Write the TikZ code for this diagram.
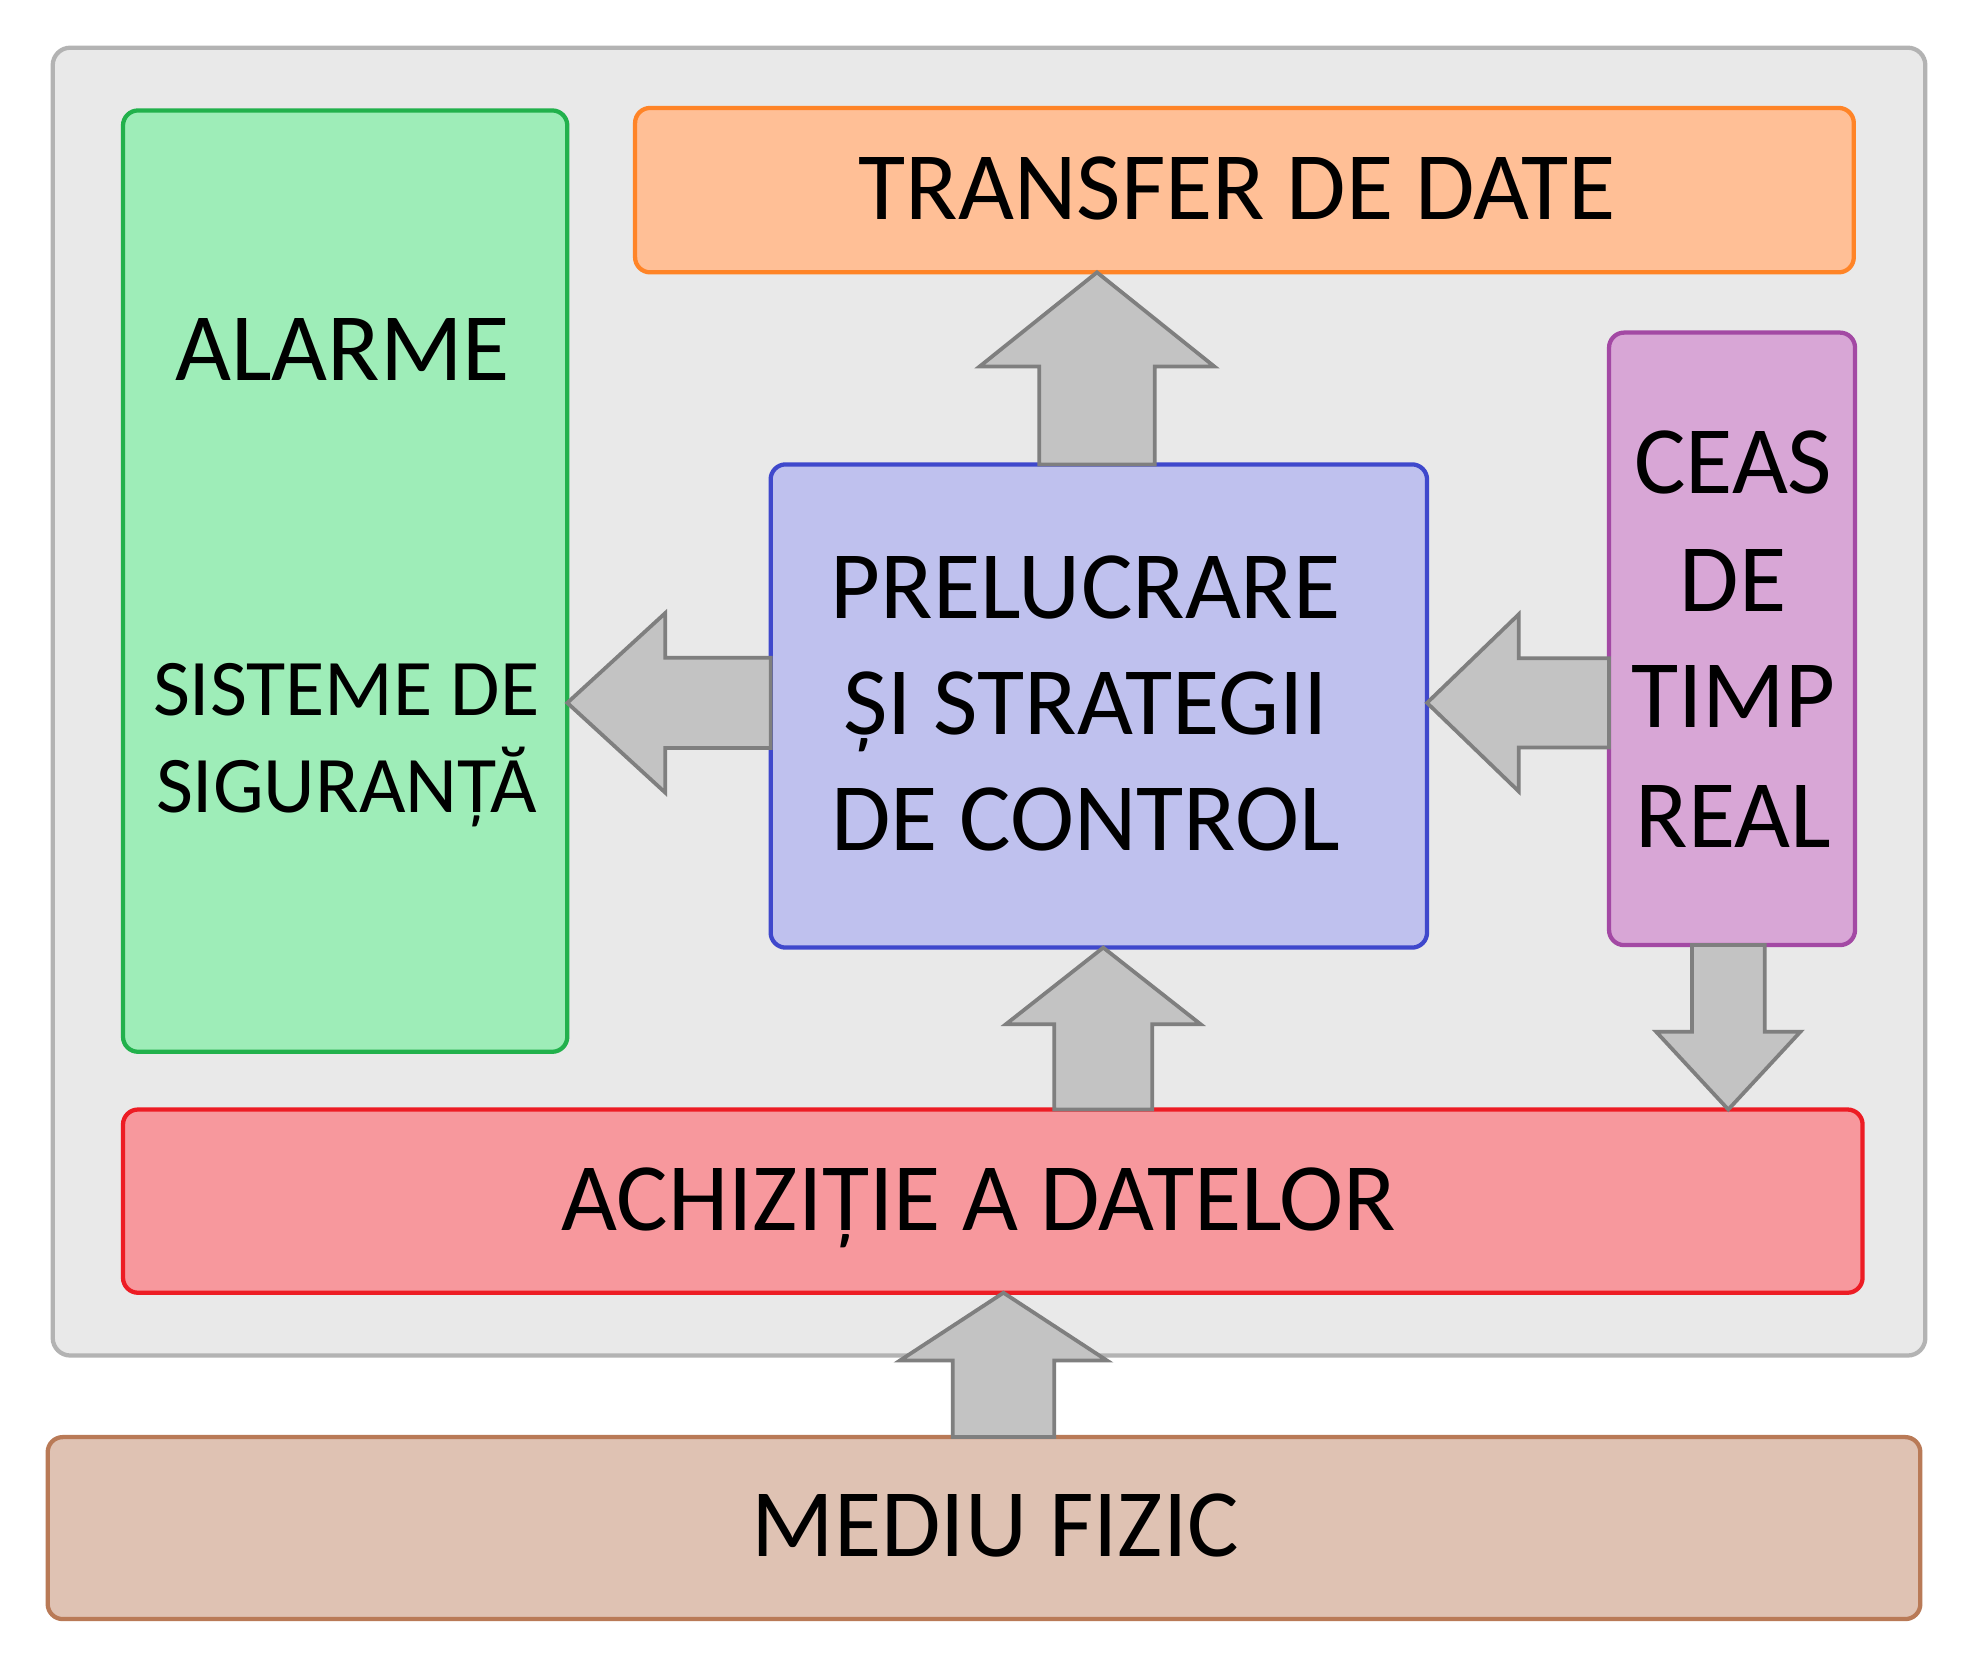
\documentclass[tikz,border=0pt]{standalone}
\usepackage{fontspec}
\setmainfont{Carlito}
\usetikzlibrary{calc}
\definecolor{bgfill}{HTML}{E9E9E9}
\definecolor{bgline}{HTML}{B3B3B3}
\definecolor{grfill}{HTML}{9EEDB8}
\definecolor{grline}{HTML}{22B14C}
\definecolor{orfill}{HTML}{FFBF96}
\definecolor{orline}{HTML}{FF8427}
\definecolor{blfill}{HTML}{BFC1EE}
\definecolor{blline}{HTML}{3F48CC}
\definecolor{pufill}{HTML}{D8A6D6}
\definecolor{puline}{HTML}{A349A4}
\definecolor{rdfill}{HTML}{F7989D}
\definecolor{rdline}{HTML}{ED1C24}
\definecolor{brfill}{HTML}{DFC2B3}
\definecolor{brline}{HTML}{B97A57}
\definecolor{arfill}{HTML}{C3C3C3}
\definecolor{arline}{HTML}{7F7F7F}
\tikzset{
  blockbox/.style={rectangle, rounded corners=12pt, line width=3.4pt, outer sep=0pt, inner sep=0pt},
  barrow/.style={draw=arline, fill=arfill, line width=3pt, line join=miter},
  lbl/.style={anchor=base, inner sep=0pt, font=\fontsize{77}{77}\selectfont},
  lblsmall/.style={anchor=base, inner sep=0pt, font=\fontsize{64}{64}\selectfont},
}
% vertical block arrow: start, tip, shaft half, head half, head length (signed, +: points up)
\newcommand\vbarrow[5]{\draw[barrow] ($(#1)+(-#3,0)$) -- ($(#2)+(-#3,#5)$) -- ($(#2)+(-#4,#5)$) -- (#2) -- ($(#2)+(#4,#5)$) -- ($(#2)+(#3,#5)$) -- ($(#1)+(#3,0)$) -- cycle;}
% horizontal block arrow pointing left: start, tip, shaft half, head half, head length
\newcommand\hbarrow[5]{\draw[barrow] ($(#1)+(0,-#3)$) -- ($(#2)+(#5,-#3)$) -- ($(#2)+(#5,-#4)$) -- (#2) -- ($(#2)+(#5,#4)$) -- ($(#2)+(#5,#3)$) -- ($(#1)+(0,#3)$) -- cycle;}
\begin{document}
\begin{tikzpicture}[x=1pt,y=-1pt]
\useasboundingbox[fill=white] (0,0) rectangle (1568,1332);
% boxes
\node[blockbox, rounded corners=14pt, draw=bgline, fill=bgfill, minimum width=1492pt, minimum height=1042pt] (outer) at (788,559) {};
\node[blockbox, draw=grline, fill=grfill, minimum width=354pt, minimum height=750pt] (green) at (275,463) {};
\node[blockbox, draw=orline, fill=orfill, minimum width=971pt, minimum height=131pt] (orange) at (991.5,151.5) {};
\node[blockbox, draw=blline, fill=blfill, minimum width=523pt, minimum height=385pt] (blue) at (875.5,562.5) {};
\node[blockbox, draw=puline, fill=pufill, minimum width=196pt, minimum height=488pt] (purple) at (1380,509) {};
\node[blockbox, draw=rdline, fill=rdfill, minimum width=1386pt, minimum height=146pt] (red) at (791,957) {};
\node[blockbox, draw=brline, fill=brfill, minimum width=1492pt, minimum height=145pt] (brown) at (784,1217.5) {};
% arrows
\vbarrow{874,0 |- blue.north}{874,0 |- orange.south}{46}{93.5}{75}
\hbarrow{blue.west |- 0,560}{green.east |- 0,560}{36}{71.5}{78}
\hbarrow{purple.west |- 0,560}{blue.east |- 0,560}{35.5}{70.5}{73}
\vbarrow{879,0 |- red.north}{879,0 |- blue.south}{39}{77.5}{61}
\vbarrow{1377,0 |- purple.south}{1377,0 |- red.north}{29}{57.5}{-62}
\vbarrow{799.5,0 |- brown.north}{799.5,0 |- red.south}{40.5}{82.5}{54}
% texts
\node[lbl] (t1) at (986,175) {TRANSFER DE DATE};
\node[lbl] (t2) at (273,303) {ALARME};
\node[lblsmall] (t3) at (276,570) {SISTEME DE};
\node[lblsmall] (t4) at (276,647) {SIGURANȚĂ};
\node[lbl] (t5) at (865,493) {PRELUCRARE};
\node[lbl] (t6) at (865,585) {ȘI STRATEGII};
\node[lbl] (t7) at (865,678) {DE CONTROL};
\node[lbl] (t8) at (1381,393) {CEAS};
\node[lbl] (t9) at (1381,487) {DE};
\node[lbl] (t10) at (1381,580) {TIMP};
\node[lbl] (t11) at (1381,675) {REAL};
\node[lbl] (t12) at (780,980) {ACHIZIȚIE A DATELOR};
\node[lbl] (t13) at (793,1240) {MEDIU FIZIC};
\end{tikzpicture}
\end{document}
